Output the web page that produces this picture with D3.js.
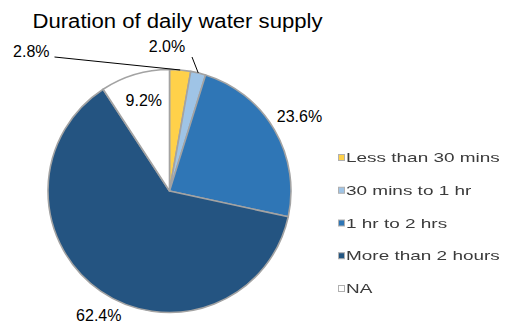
<!DOCTYPE html>
<html>
<head>
<meta charset="utf-8">
<script src="https://cdn.jsdelivr.net/npm/d3@7/dist/d3.min.js"></script>
<style>
  html, body { margin: 0; padding: 0; background: #ffffff; }
  svg { display: block; }
</style>
</head>
<body>
<svg id="chart" width="512" height="323"></svg>
<script>
// Daily water supply duration shares (percent of households)
const categories = ["Less than 30 mins", "30 mins to 1 hr", "1 hr to 2 hrs", "More than 2 hours", "NA"];
const shares = [2.8, 2.0, 23.6, 62.4, 9.2];
const sliceColors = ["#ffd14a", "#9fc4e6", "#2f76b6", "#245481", "#ffffff"];
const titleText = "Duration of daily water supply";

const svg = d3.select("#chart");
const cx = 169.5, cy = 191, R = 121.5;

// Title
svg.append("text")
  .attr("x", 177.5).attr("y", 28)
  .attr("text-anchor", "middle")
  .attr("font-family", "Liberation Sans, Arial, sans-serif")
  .attr("font-size", 20)
  .attr("textLength", 290)
  .attr("lengthAdjust", "spacingAndGlyphs")
  .attr("fill", "#000")
  .text(titleText);

const data = categories.map((c, i) => ({ name: c, value: shares[i], color: sliceColors[i] }));
const pie = d3.pie().sort(null).value(d => d.value);
const arcs = pie(data);
const arc = d3.arc().innerRadius(0).outerRadius(R);

const g = svg.append("g").attr("transform", `translate(${cx},${cy})`);
g.selectAll("path.slice")
  .data(arcs)
  .join("path")
  .attr("class", "slice")
  .attr("d", arc)
  .attr("fill", d => d.data.color)
  .attr("stroke", "#a3a3a3")
  .attr("stroke-width", 1.6)
  .attr("stroke-linejoin", "round");

// Label placement: radius factor of R plus small nudges; thin slices get a leader line
const labelLayout = [
  { tx: -120, ty: -134, anchor: "end", lx: -115, ly: -134 },
  { tx: -2.5, ty: -139, anchor: "middle", lx: 22.5, ly: -134 },
  { r: 1.21, dx: 3, dy: 5, anchor: "middle" },
  { r: 1.2, dx: 12, dy: 10, anchor: "middle" },
  { r: 0.77, dx: 1, dy: 5, anchor: "middle" }
];
const fmt = d3.format(".1f");
const polar = (a, r) => [Math.sin(a) * r, -Math.cos(a) * r];

arcs.forEach((a, i) => {
  const L = labelLayout[i];
  const mid = (a.startAngle + a.endAngle) / 2;
  let x, y;
  if (L.lx !== undefined) {
    const [px, py] = polar(mid, R);
    x = L.tx; y = L.ty;
    g.append("line")
      .attr("x1", L.lx).attr("y1", L.ly)
      .attr("x2", px).attr("y2", py)
      .attr("stroke", "#000").attr("stroke-width", 1);
  } else {
    const p = polar(mid, R * L.r);
    x = p[0] + L.dx; y = p[1] + L.dy;
  }
  g.append("text")
    .attr("x", x).attr("y", y)
    .attr("text-anchor", L.anchor)
    .attr("font-family", "Liberation Sans, Arial, sans-serif")
    .attr("font-size", 16)
    .attr("fill", "#000")
    .text(fmt(a.data.value) + "%");
});

// Legend
const defs = svg.append("defs");
defs.append("filter").attr("id", "soft")
  .append("feGaussianBlur").attr("stdDeviation", 0.55);

const legend = svg.append("g").attr("filter", "url(#soft)");
const legendY = d3.scalePoint().domain(categories).range([158, 289]);
const rows = legend.selectAll("g.row")
  .data(data)
  .join("g")
  .attr("class", "row")
  .attr("transform", d => `translate(338,${legendY(d.name)})`);
rows.append("rect")
  .attr("x", 0.5).attr("y", -3.5)
  .attr("width", 6).attr("height", 6)
  .attr("fill", d => d.color)
  .attr("stroke", "#b0b0b0").attr("stroke-width", 1);
rows.append("text")
  .attr("transform", "translate(8,4) scale(1.58,1)")
  .attr("font-family", "Liberation Sans, Arial, sans-serif")
  .attr("font-size", 12)
  .attr("fill", "#3a3a3a")
  .text(d => d.name);
</script>
</body>
</html>
